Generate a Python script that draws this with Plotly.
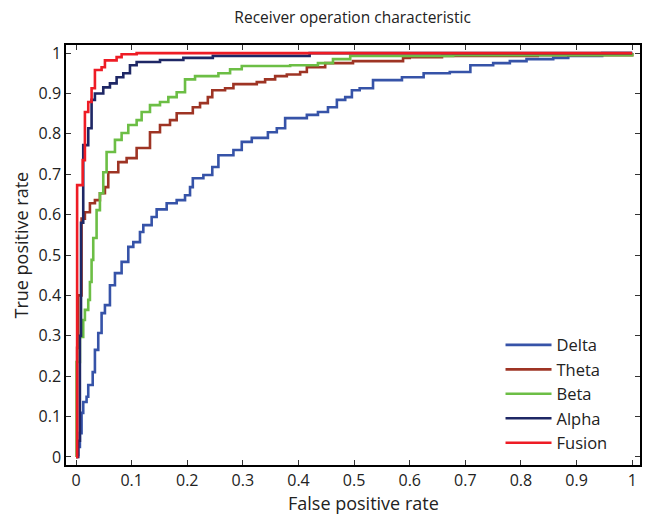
import plotly.graph_objects as go

# ---- data ----
delta_fpr = [0, 0.004, 0.007, 0.010, 0.013, 0.019, 0.022, 0.030, 0.034, 0.040, 0.046, 0.052, 0.061, 0.070, 0.082, 0.094, 0.103, 0.115, 0.121, 0.136, 0.145, 0.163, 0.181, 0.196, 0.205, 0.21, 0.229, 0.245, 0.256, 0.283, 0.298, 0.316, 0.345, 0.361, 0.376, 0.415, 0.435, 0.453, 0.469, 0.484, 0.496, 0.51, 0.534, 0.586, 0.625, 0.672, 0.709, 0.75, 0.78, 0.81, 0.858, 0.885, 0.946, 1.0]
delta_tpr = [0.005, 0.025, 0.059, 0.109, 0.136, 0.149, 0.178, 0.21, 0.265, 0.307, 0.356, 0.376, 0.425, 0.455, 0.483, 0.52, 0.532, 0.557, 0.574, 0.594, 0.613, 0.628, 0.636, 0.648, 0.668, 0.69, 0.698, 0.718, 0.747, 0.76, 0.78, 0.79, 0.804, 0.814, 0.839, 0.847, 0.854, 0.866, 0.884, 0.891, 0.908, 0.913, 0.933, 0.94, 0.95, 0.953, 0.97, 0.975, 0.98, 0.985, 0.988, 0.993, 1.0, 1.0]

theta_fpr = [0, 0.002, 0.004, 0.010, 0.016, 0.025, 0.034, 0.043, 0.052, 0.058, 0.076, 0.091, 0.109, 0.133, 0.151, 0.169, 0.181, 0.21, 0.223, 0.237, 0.245, 0.268, 0.283, 0.325, 0.34, 0.358, 0.379, 0.403, 0.415, 0.448, 0.498, 0.588, 0.6, 0.658, 0.83, 1.0]
theta_tpr = [0, 0.27, 0.4, 0.59, 0.606, 0.628, 0.636, 0.653, 0.668, 0.705, 0.73, 0.74, 0.765, 0.804, 0.822, 0.834, 0.851, 0.866, 0.876, 0.891, 0.908, 0.913, 0.923, 0.928, 0.935, 0.943, 0.947, 0.953, 0.965, 0.975, 0.98, 0.988, 0.99, 0.993, 0.995, 1.0]

beta_fpr = [0, 0.001, 0.007, 0.013, 0.016, 0.022, 0.025, 0.028, 0.031, 0.037, 0.043, 0.049, 0.055, 0.070, 0.082, 0.094, 0.109, 0.118, 0.133, 0.151, 0.166, 0.181, 0.196, 0.214, 0.256, 0.277, 0.298, 0.385, 0.435, 0.462, 0.493, 0.678, 1.0]
beta_tpr = [0, 0.235, 0.297, 0.339, 0.364, 0.389, 0.433, 0.488, 0.542, 0.611, 0.653, 0.705, 0.755, 0.785, 0.802, 0.822, 0.834, 0.854, 0.871, 0.879, 0.891, 0.903, 0.935, 0.943, 0.95, 0.96, 0.968, 0.97, 0.975, 0.985, 0.993, 0.995, 1.0]

alpha_fpr = [0, 0.004, 0.007, 0.009, 0.013, 0.022, 0.028, 0.034, 0.049, 0.061, 0.073, 0.085, 0.097, 0.109, 0.151, 0.193, 0.246, 0.42, 1.0]
alpha_tpr = [0, 0.04, 0.3, 0.58, 0.772, 0.814, 0.884, 0.9, 0.915, 0.925, 0.94, 0.95, 0.97, 0.978, 0.983, 0.988, 0.993, 1.0, 1.0]

fusion_fpr = [0, 0.002, 0.012, 0.016, 0.022, 0.028, 0.034, 0.046, 0.052, 0.073, 0.082, 0.109, 1.0]
fusion_tpr = [0, 0.673, 0.735, 0.854, 0.879, 0.913, 0.958, 0.965, 0.982, 0.99, 0.997, 1.0, 1.0]

tick_vals = [0, 0.1, 0.2, 0.3, 0.4, 0.5, 0.6, 0.7, 0.8, 0.9, 1]
tick_text = ["0", "0.1", "0.2", "0.3", "0.4", "0.5", "0.6", "0.7", "0.8", "0.9", "1"]

series = [
    ("Delta", delta_fpr, delta_tpr, "#3653A8"),
    ("Theta", theta_fpr, theta_tpr, "#9E3424"),
    ("Beta", beta_fpr, beta_tpr, "#6CBE45"),
    ("Alpha", alpha_fpr, alpha_tpr, "#1E2765"),
    ("Fusion", fusion_fpr, fusion_tpr, "#EE1C25"),
]

fig = go.Figure()
for name, x, y, c in series:
    fig.add_trace(go.Scatter(x=x, y=y, mode="lines", name=name,
                             line=dict(color=c, width=2.6, shape="hv")))

font_family = "Open Sans, Lato, sans-serif"
axis_common = dict(
    showline=True, linecolor="black", linewidth=1.5, mirror="allticks",
    ticks="inside", ticklen=5, tickwidth=1, tickcolor="#333",
    showgrid=False, zeroline=False, automargin=False,
    tickvals=tick_vals, ticktext=tick_text,
    tickfont=dict(size=16, color="#222", family=font_family),
)

fig.update_layout(
    width=653, height=515,
    margin=dict(l=66, r=13, t=45, b=50),
    paper_bgcolor="white", plot_bgcolor="white",
    font=dict(family=font_family, size=15, color="#222"),
    title=dict(text="Receiver operation characteristic", x=0.54, xanchor="center",
               y=0.965, yanchor="middle", font=dict(size=15.5, color="#222")),
    xaxis=dict(range=[-0.018, 1.014], **axis_common),
    yaxis=dict(range=[-0.02, 1.02], **axis_common),
    legend=dict(x=0.757, y=0.327, xanchor="left", yanchor="top",
                bgcolor="rgba(0,0,0,0)", borderwidth=0,
                font=dict(size=16.5, color="#222"), tracegroupgap=0,
                itemwidth=46),
    showlegend=True,
    annotations=[
        dict(text="False positive rate", xref="paper", yref="paper",
             x=0.519, y=-0.0905, xanchor="center", yanchor="middle",
             showarrow=False, font=dict(size=18, color="#222")),
        dict(text="True positive rate", xref="paper", yref="paper",
             x=-0.0784, y=0.525, xanchor="center", yanchor="middle",
             textangle=-90, showarrow=False, font=dict(size=18, color="#222")),
    ],
)

fig.write_html("out.html", config={"displayModeBar": False},
               post_script="document.body.style.margin='0px';document.body.style.padding='0px';")
